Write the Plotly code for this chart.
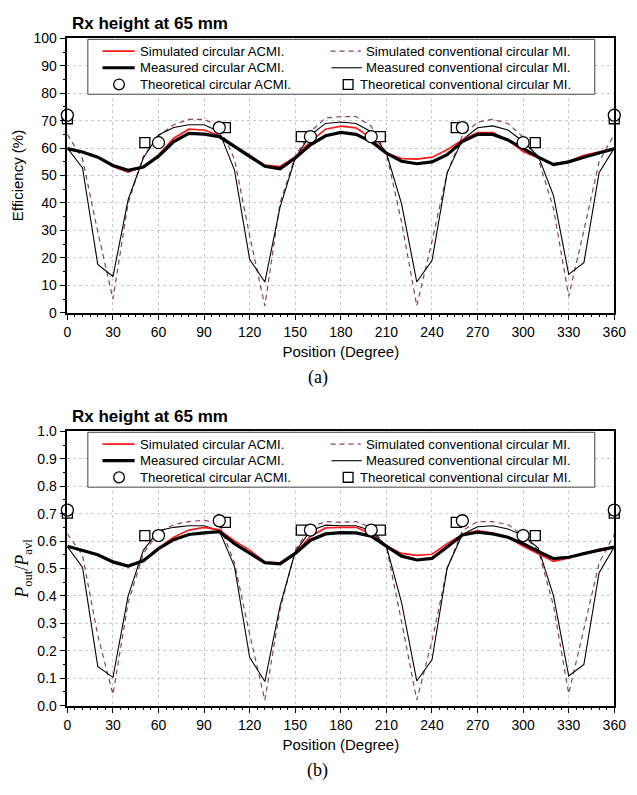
import plotly.graph_objects as go

# ---------------- data ----------------
deg = list(range(0, 361, 10))

# (a) Efficiency (%)
eff_sim_acmi = [59.8, 58.6, 56.7, 53.3, 51.3, 53.3, 57.5, 63.6, 66.9, 66.6, 64.5, 61.0, 57.4,
                53.8, 53.3, 56.8, 62.4, 66.9, 68.0, 67.4, 63.6, 58.2, 56.2, 56.0, 56.7, 59.4,
                63.0, 65.7, 65.7, 63.0, 58.8, 56.4, 54.3, 55.2, 57.4, 58.6, 59.8]
eff_meas_acmi = [59.8, 58.6, 56.7, 53.7, 51.9, 53.1, 57.0, 62.4, 65.4, 65.1, 64.2, 60.5, 57.0,
                 53.4, 52.5, 56.4, 61.2, 64.5, 65.7, 65.0, 62.4, 58.2, 55.2, 54.3, 55.0, 57.6,
                 62.4, 65.0, 65.0, 63.0, 59.8, 56.7, 54.0, 55.0, 56.7, 58.2, 59.8]
eff_sim_mi = [65.0, 56.0, 29.5, 5.0, 40.0, 57.0, 64.5, 68.5, 70.5, 70.5, 68.0, 56.0, 28.0,
              2.5, 40.0, 57.0, 66.0, 71.0, 71.5, 71.5, 68.0, 58.0, 33.0, 2.5, 26.0, 51.0,
              64.5, 69.5, 70.5, 69.0, 64.0, 56.0, 38.0, 6.0, 30.0, 55.0, 65.0]
eff_meas_mi = [60.0, 52.8, 17.6, 13.2, 41.2, 56.4, 64.8, 67.5, 68.5, 68.5, 66.0, 52.0, 19.5,
               11.2, 38.5, 56.4, 64.8, 69.0, 69.5, 69.0, 66.0, 58.2, 39.7, 11.2, 19.0, 51.0,
               63.0, 67.4, 68.1, 66.6, 62.4, 57.0, 42.7, 14.0, 18.2, 51.0, 60.0]
theo_acmi_deg = [0, 60, 100, 160, 200, 260, 300, 360]
eff_theo_acmi = [72.0, 62.0, 67.5, 64.2, 64.2, 67.5, 62.0, 72.0]
theo_mi_deg = [0, 51, 104, 154, 206, 256, 308, 360]
eff_theo_mi = [70.7, 62.0, 67.5, 64.2, 64.2, 67.5, 62.0, 70.7]

# (b) Pout / Pavl
p_sim_acmi = [0.581, 0.567, 0.550, 0.522, 0.506, 0.530, 0.575, 0.614, 0.640, 0.650, 0.641, 0.600, 0.567,
              0.524, 0.521, 0.557, 0.617, 0.648, 0.650, 0.650, 0.626, 0.581, 0.555, 0.548, 0.552, 0.590,
              0.624, 0.638, 0.629, 0.614, 0.581, 0.552, 0.526, 0.538, 0.557, 0.564, 0.578]
p_meas_acmi = [0.581, 0.567, 0.550, 0.524, 0.509, 0.528, 0.572, 0.605, 0.624, 0.630, 0.634, 0.590, 0.557,
               0.521, 0.517, 0.555, 0.603, 0.626, 0.631, 0.630, 0.618, 0.581, 0.545, 0.531, 0.537, 0.578,
               0.622, 0.632, 0.626, 0.614, 0.590, 0.562, 0.536, 0.541, 0.555, 0.567, 0.578]
p_sim_mi = [0.626, 0.548, 0.256, 0.041, 0.375, 0.554, 0.632, 0.660, 0.671, 0.676, 0.662, 0.520, 0.260,
            0.020, 0.350, 0.567, 0.650, 0.671, 0.668, 0.671, 0.650, 0.580, 0.305, 0.021, 0.235, 0.500,
            0.638, 0.671, 0.671, 0.660, 0.620, 0.567, 0.364, 0.044, 0.280, 0.520, 0.624]
p_meas_mi = [0.580, 0.504, 0.143, 0.103, 0.400, 0.566, 0.638, 0.650, 0.656, 0.656, 0.638, 0.507, 0.176,
             0.088, 0.364, 0.561, 0.638, 0.658, 0.656, 0.656, 0.638, 0.581, 0.376, 0.090, 0.167, 0.502,
             0.624, 0.652, 0.656, 0.644, 0.620, 0.574, 0.400, 0.108, 0.150, 0.485, 0.578]
p_theo_acmi = [0.713, 0.620, 0.674, 0.640, 0.640, 0.674, 0.620, 0.713]
p_theo_mi = [0.702, 0.620, 0.668, 0.640, 0.640, 0.668, 0.620, 0.702]

x_ticks = list(range(0, 361, 30))
legend_labels_left = ["Simulated circular ACMI.", "Measured circular ACMI.", "Theoretical circular ACMI."]
legend_labels_right = ["Simulated conventional circular MI.", "Measured conventional circular MI.",
                       "Theoretical conventional circular MI."]

# ---------------- styling ----------------
W, H = 637, 795
SANS = "Liberation Sans, Arial, sans-serif"
SERIF = "Liberation Serif, Times New Roman, serif"
RED = "#ff1a1a"
MAUVE = "#8e3f63"
DASH = "5px,4px"
LEG_FS = 13.2


def px(x):
    return x / W


def py(y):
    return 1 - y / H


fig = go.Figure()


def add_panel(xa, ya, sim_acmi, meas_acmi, sim_mi, meas_mi, th_acmi, th_mi):
    common = dict(xaxis=xa, yaxis=ya, showlegend=False, hoverinfo="skip")
    fig.add_trace(go.Scatter(x=deg, y=sim_mi, mode="lines",
                             line=dict(color=MAUVE, width=1.2, dash=DASH), **common))
    fig.add_trace(go.Scatter(x=deg, y=meas_mi, mode="lines",
                             line=dict(color="black", width=1.1), **common))
    fig.add_trace(go.Scatter(x=deg, y=sim_acmi, mode="lines",
                             line=dict(color=RED, width=1.7), **common))
    fig.add_trace(go.Scatter(x=deg, y=meas_acmi, mode="lines",
                             line=dict(color="black", width=3.2), **common))
    fig.add_trace(go.Scatter(x=theo_mi_deg, y=th_mi, mode="markers", cliponaxis=False,
                             marker=dict(symbol="square", size=10, color="white",
                                         line=dict(color="black", width=1.3)), **common))
    fig.add_trace(go.Scatter(x=theo_acmi_deg, y=th_acmi, mode="markers", cliponaxis=False,
                             marker=dict(symbol="circle", size=12, color="white",
                                         line=dict(color="black", width=1.3)), **common))


add_panel("x", "y", eff_sim_acmi, eff_meas_acmi, eff_sim_mi, eff_meas_mi, eff_theo_acmi, eff_theo_mi)
add_panel("x2", "y2", p_sim_acmi, p_meas_acmi, p_sim_mi, p_meas_mi, p_theo_acmi, p_theo_mi)

X0, X1 = 65, 626
panels = [
    dict(top=31, bottom=311),
    dict(top=432, bottom=712),
]

xcommon = dict(range=[0, 360], tickmode="array", tickvals=x_ticks, ticktext=[str(v) for v in x_ticks],
               ticks="outside", ticklen=6, tickwidth=1.2, ticklabeloverflow="allow",
               tickcolor="black", showline=True, linecolor="black", linewidth=1.5, mirror=True,
               showgrid=True, gridcolor="#c9c9c9", griddash="dot", gridwidth=1, zeroline=False,
               tickfont=dict(family=SANS, size=14, color="black"),
               minor=dict(tickmode="linear", tick0=0, dtick=5, ticks="outside", ticklen=3,
                          tickcolor="black", showgrid=False),
               title=dict(text="Position (Degree)", font=dict(family=SANS, size=15, color="black"),
                          standoff=7),
               domain=[px(X0), px(X1)], fixedrange=True)

fig.update_layout(
    width=W, height=H, autosize=False,
    margin=dict(l=0, r=0, t=0, b=0),
    paper_bgcolor="white", plot_bgcolor="white",
    xaxis=dict(anchor="y", **xcommon),
    xaxis2=dict(anchor="y2", **xcommon),
    yaxis=dict(anchor="x", domain=[py(311), py(31)], range=[0, 100], tick0=0, dtick=10,
               ticks="outside", ticklen=6, tickwidth=1.2, tickcolor="black", ticklabeloverflow="allow",
               showline=True, linecolor="black", linewidth=1.5, mirror=True,
               showgrid=True, gridcolor="#c9c9c9", griddash="dot", zeroline=False,
               tickfont=dict(family=SANS, size=14, color="black"),
               minor=dict(dtick=5, ticks="outside", ticklen=3, tickcolor="black", showgrid=False),
               title=dict(text="Efficiency (%)", font=dict(family=SANS, size=15, color="black"),
                          standoff=6), fixedrange=True),
    yaxis2=dict(anchor="x2", domain=[py(712), py(432)], range=[0, 1.0], tick0=0, dtick=0.1,
                tickformat=".1f", ticklabeloverflow="allow",
                ticks="outside", ticklen=6, tickwidth=1.2, tickcolor="black",
                showline=True, linecolor="black", linewidth=1.5, mirror=True,
                showgrid=True, gridcolor="#c9c9c9", griddash="dot", zeroline=False,
                tickfont=dict(family=SANS, size=14, color="black"),
                minor=dict(dtick=0.05, ticks="outside", ticklen=3, tickcolor="black", showgrid=False),
                title=dict(text="<i>P</i><sub>out</sub>/<i>P</i><sub>avl</sub>",
                           font=dict(family=SERIF, size=18, color="black"), standoff=4),
                fixedrange=True),
)

shapes = []
annotations = []
for i, p in enumerate(panels):
    t = p["top"]
    # title
    annotations.append(dict(xref="paper", yref="paper", x=px(68), y=py(t - 15), xanchor="left",
                            yanchor="middle", showarrow=False,
                            text="<b>Rx height at 65 mm</b>",
                            font=dict(family=SANS, size=17, color="black")))
    # caption
    annotations.append(dict(xref="paper", yref="paper", x=px(322), y=py(p["bottom"] + 66),
                            xanchor="center", yanchor="middle", showarrow=False,
                            text="(a)" if i == 0 else "(b)",
                            font=dict(family=SERIF, size=18, color="black")))
    # legend box
    lt = t + 1
    lb = t + 57
    shapes.append(dict(type="rect", xref="paper", yref="paper", x0=px(86), x1=px(606),
                       y0=py(lb), y1=py(lt), line=dict(color="#444444", width=1),
                       fillcolor="white", layer="above"))
    rows = [t + 13, t + 30, t + 47]
    # left column samples
    shapes.append(dict(type="line", xref="paper", yref="paper", x0=px(101), x1=px(134),
                       y0=py(rows[0]), y1=py(rows[0]), line=dict(color=RED, width=1.7), layer="above"))
    shapes.append(dict(type="line", xref="paper", yref="paper", x0=px(101), x1=px(134),
                       y0=py(rows[1]), y1=py(rows[1]), line=dict(color="black", width=3.2), layer="above"))
    shapes.append(dict(type="circle", xref="paper", yref="paper", x0=px(118 - 5.5), x1=px(118 + 5.5),
                       y0=py(rows[2] + 5.5), y1=py(rows[2] - 5.5),
                       line=dict(color="black", width=1.3), fillcolor="white", layer="above"))
    # right column samples
    shapes.append(dict(type="line", xref="paper", yref="paper", x0=px(335), x1=px(366),
                       y0=py(rows[0]), y1=py(rows[0]), line=dict(color=MAUVE, width=1.2, dash=DASH),
                       layer="above"))
    shapes.append(dict(type="line", xref="paper", yref="paper", x0=px(336), x1=px(367),
                       y0=py(rows[1]), y1=py(rows[1]), line=dict(color="black", width=1.1), layer="above"))
    shapes.append(dict(type="rect", xref="paper", yref="paper", x0=px(353 - 5), x1=px(353 + 5),
                       y0=py(rows[2] + 5), y1=py(rows[2] - 5),
                       line=dict(color="black", width=1.3), fillcolor="white", layer="above"))
    for r, lab in zip(rows, legend_labels_left):
        annotations.append(dict(xref="paper", yref="paper", x=px(137), y=py(r), xanchor="left",
                                yanchor="middle", showarrow=False, text=lab,
                                font=dict(family=SANS, size=LEG_FS, color="black")))
    for r, lab in zip(rows, legend_labels_right):
        annotations.append(dict(xref="paper", yref="paper", x=px(584), y=py(r), xanchor="right",
                                yanchor="middle", showarrow=False, text=lab,
                                font=dict(family=SANS, size=LEG_FS, color="black")))

fig.update_layout(shapes=shapes, annotations=annotations)
fig.write_html("out.html")
